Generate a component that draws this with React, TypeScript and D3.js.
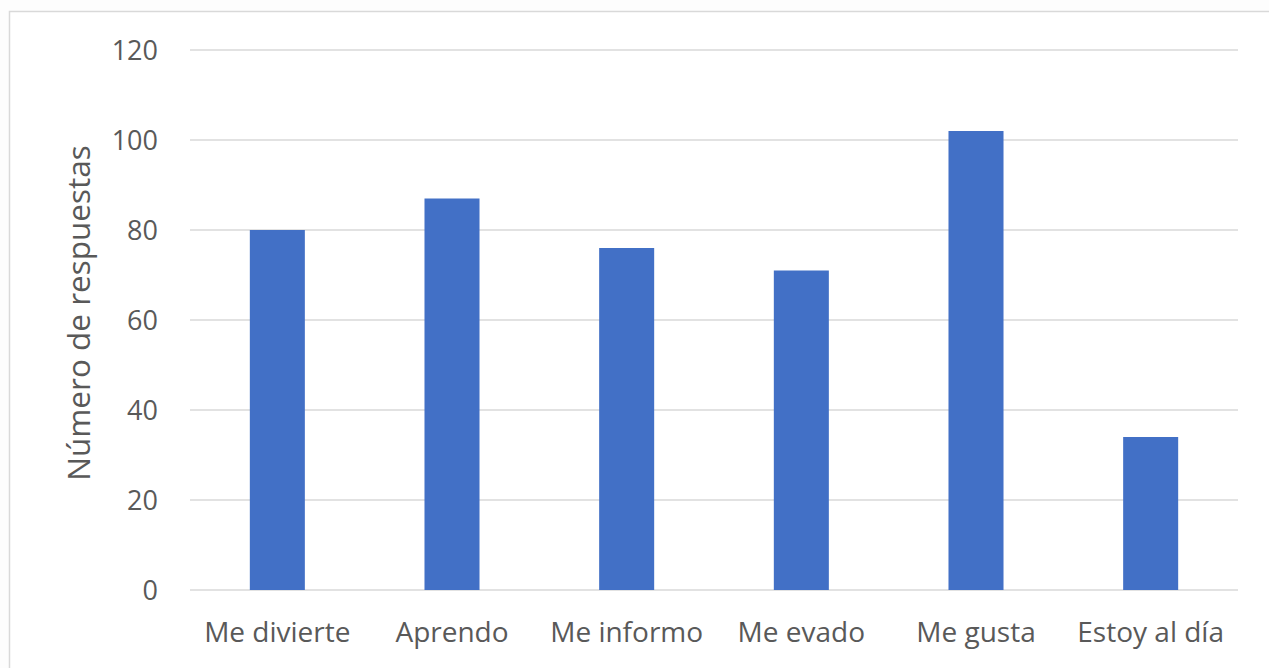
import React from "react";
import * as d3 from "d3";

const categories = ["Me divierte", "Aprendo", "Me informo", "Me evado", "Me gusta", "Estoy al día"];
const values = [80, 87, 76, 71, 102, 34];
const yTicks = [0, 20, 40, 60, 80, 100, 120];
const yTitle = "Número de respuestas";

const W = 1269;
const H = 668;
const left = 190;
const right = 1238;
const top = 50;
const bottom = 590;
const FONT = "'Open Sans', 'Noto Sans', sans-serif";
const TEXT = "#595959";

export default function App() {
  const x = d3.scaleBand<string>().domain(categories).range([left, right]).paddingInner(0.685).paddingOuter(0.3425);
  const y = d3.scaleLinear().domain([0, 120]).range([bottom, top]);
  return (
    <svg width={W} height={H} style={{ position: "absolute", left: 0, top: 0, background: "#fff" }}>
      <rect x={0} y={0} width={W} height={H} fill="#fdfdfd" />
      <rect x={9.5} y={11.5} width={W + 20} height={H + 20} fill="#fff" stroke="#d9d9d9" strokeWidth={1.5} />
      {yTicks.map((t) => (
        <g key={t}>
          <line x1={left} x2={right} y1={y(t)} y2={y(t)} stroke="#d9d9d9" strokeWidth={1.5} />
          <text x={158} y={y(t)} dy="0.36em" textAnchor="end" fontFamily={FONT} fontSize={27} fill={TEXT}>
            {t}
          </text>
        </g>
      ))}
      {categories.map((c, i) => (
        <rect key={c} x={x(c)} y={y(values[i])} width={x.bandwidth()} height={y(0) - y(values[i])} fill="#4270c6" />
      ))}
      {categories.map((c) => (
        <text key={c} x={(x(c) as number) + x.bandwidth() / 2} y={642} textAnchor="middle" fontFamily={FONT} fontSize={28} fill={TEXT}>
          {c}
        </text>
      ))}
      <text
        transform={`translate(90, 313) rotate(-90)`}
        textAnchor="middle"
        fontFamily={FONT}
        fontSize={31.5}
        fill={TEXT}
      >
        {yTitle}
      </text>
    </svg>
  );
}
